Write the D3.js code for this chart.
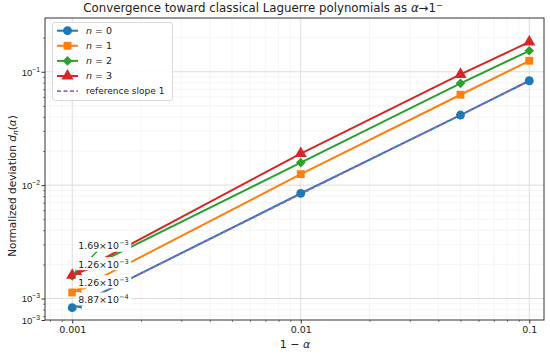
<!DOCTYPE html>
<html>
<head>
<meta charset="utf-8">
<script src="https://cdn.jsdelivr.net/npm/d3@7"></script>
<style>
  body { margin: 0; background: #fff; }
  svg { font-family: "DejaVu Sans", sans-serif; }
</style>
</head>
<body>
<div id="chart"></div>
<script>
// values
const xVals = [0.001, 0.01, 0.05, 0.1];
const dev0 = [8.3e-4, 8.45e-3, 0.0415, 0.0833];
const dev1 = [1.13e-3, 0.0125, 0.0627, 0.125];
const dev2 = [1.58e-3, 0.0158, 0.079, 0.153];
const dev3 = [1.6e-3, 0.019, 0.0948, 0.183];
const refX = [0.001, 0.1];
const refY = [8.33e-4, 0.0833];

const seriesNames = ["0", "1", "2", "3"];
const annotMantissa = ["8.87", "1.26", "1.69", "1.26"];
const annotExp = ["−4", "−3", "−3", "−3"];

const xTicks = [0.001, 0.01, 0.1];
const xTickLabels = ["0.001", "0.01", "0.1"];
const yTicks = [6.46e-4, 1e-3, 1e-2, 1e-1];
const yTickExps = ["−3", "−3", "−2", "−1"];

const W = 550, H = 355;
const colors = ["#1f77b4", "#ff7f0e", "#2ca02c", "#d62728"];
const refColor = "#9467bd";
const symbols = [d3.symbolCircle, d3.symbolSquare, d3.symbolSquare, d3.symbolTriangle];
const symSizes = [62, 62, 46, 64];
const symRotate = [0, 0, 45, 0];
// pixel offset of each annotation text (left edge, vertical centre) from its point
const annotOffset = [[6, -8], [6, -10], [6, -30], [6, -11]];

const svg = d3.select("#chart").append("svg")
	.attr("width", W)
	.attr("height", H);

const x = d3.scaleLog().domain([7.6e-4, 0.116]).range([45, 544]);
const y = d3.scaleLog().domain([6.46e-4, 0.298]).range([320, 18]);

const minorX = x.ticks().filter(v => !xTicks.some(t => Math.abs(t - v) / t < 1e-6));
const minorY = y.ticks().filter(v => !yTicks.some(t => Math.abs(t - v) / t < 1e-6));

// grid
const grid = svg.append("g");
grid.selectAll(".gx-minor").data(minorX).enter().append("line")
	.attr("x1", d => x(d)).attr("x2", d => x(d))
	.attr("y1", 18).attr("y2", 320)
	.attr("stroke", "#eeeeee").attr("stroke-width", 0.6);
grid.selectAll(".gy-minor").data(minorY).enter().append("line")
	.attr("y1", d => y(d)).attr("y2", d => y(d))
	.attr("x1", 45).attr("x2", 544)
	.attr("stroke", "#eeeeee").attr("stroke-width", 0.6);
grid.selectAll(".gx").data(xTicks).enter().append("line")
	.attr("x1", d => x(d)).attr("x2", d => x(d))
	.attr("y1", 18).attr("y2", 320)
	.attr("stroke", "#d9d9d9").attr("stroke-width", 0.9);
grid.selectAll(".gy").data(yTicks.slice(1)).enter().append("line")
	.attr("y1", d => y(d)).attr("y2", d => y(d))
	.attr("x1", 45).attr("x2", 544)
	.attr("stroke", "#d9d9d9").attr("stroke-width", 0.9);

// axes
const axisX = d3.axisBottom(x).tickValues(xTicks).tickSize(3.5).tickPadding(3)
	.tickFormat((d, i) => xTickLabels[i]);
const gx = svg.append("g").attr("transform", "translate(0,320)").call(axisX);
gx.select(".domain").remove();
gx.selectAll("text").attr("font-size", 9.5).attr("fill", "#222").attr("font-family", "DejaVu Sans");
gx.selectAll("line").attr("stroke", "#333");
const gxm = svg.append("g").attr("transform", "translate(0,320)")
	.call(d3.axisBottom(x).tickValues(minorX).tickSize(2).tickFormat(""));
gxm.select(".domain").remove();
gxm.selectAll("line").attr("stroke", "#333").attr("stroke-width", 0.6);

const axisY = d3.axisLeft(y).tickValues(yTicks).tickSize(3.5).tickPadding(3).tickFormat("");
const gy = svg.append("g").attr("transform", "translate(45,0)").call(axisY);
gy.select(".domain").remove();
gy.selectAll("line").attr("stroke", "#333");
gy.selectAll(".tick").each(function (d, i) {
	const t = d3.select(this).append("text")
		.attr("x", -5).attr("dy", "0.35em")
		.attr("text-anchor", "end")
		.attr("font-size", 9.5).attr("fill", "#222");
	t.append("tspan").text("10");
	t.append("tspan").attr("dy", -4).attr("font-size", 6.8).text(yTickExps[i]);
});
const gym = svg.append("g").attr("transform", "translate(45,0)")
	.call(d3.axisLeft(y).tickValues(minorY).tickSize(2).tickFormat(""));
gym.select(".domain").remove();
gym.selectAll("line").attr("stroke", "#333").attr("stroke-width", 0.6);

// series
const allSeries = [dev0, dev1, dev2, dev3];
const line = d3.line().x(d => x(d[0])).y(d => y(d[1]));
const plot = svg.append("g");

allSeries.forEach((vals, k) => {
	const pts = xVals.map((v, i) => [v, vals[i]]);
	plot.append("path").datum(pts)
		.attr("d", line)
		.attr("fill", "none")
		.attr("stroke", colors[k])
		.attr("stroke-width", 2);
	if (k === 0) {
		plot.append("path").datum(refX.map((v, i) => [v, refY[i]]))
			.attr("d", line)
			.attr("fill", "none")
			.attr("stroke", refColor)
			.attr("stroke-width", 1.6)
			.attr("stroke-dasharray", "4,2.5");
	}
});
allSeries.forEach((vals, k) => {
	plot.selectAll(null).data(xVals.map((v, i) => [v, vals[i]])).enter().append("path")
		.attr("transform", d => `translate(${x(d[0])},${y(d[1])}) rotate(${symRotate[k]})`)
		.attr("d", d3.symbol().type(symbols[k]).size(symSizes[k]))
		.attr("fill", colors[k]);
});

// annotations at 1-alpha = 0.001
const defs = svg.append("defs");
colors.forEach((c, k) => {
	defs.append("marker")
		.attr("id", "ah" + k)
		.attr("viewBox", "0 0 10 10")
		.attr("refX", 9).attr("refY", 5)
		.attr("markerWidth", 7).attr("markerHeight", 7)
		.attr("markerUnits", "userSpaceOnUse")
		.attr("orient", "auto")
		.append("path").attr("d", "M0,0L10,5L0,10z").attr("fill", c);
});

const annot = svg.append("g");
allSeries.forEach((vals, k) => {
	const px = x(xVals[0]), py = y(vals[0]);
	const tx = px + annotOffset[k][0], ty = py + annotOffset[k][1];
	const g = annot.append("g");
	const arrow = g.append("line");
	const box = g.append("rect");
	const t = g.append("text")
		.attr("x", tx).attr("y", ty).attr("dy", "0.35em")
		.attr("font-size", 9.4).attr("fill", "#222");
	t.append("tspan").text(annotMantissa[k] + "×10");
	t.append("tspan").attr("dy", -4).attr("font-size", 6.6).text(annotExp[k]);
	const bb = t.node().getBBox();
	box.attr("x", bb.x - 2.5).attr("y", bb.y - 0.5)
		.attr("width", bb.width + 5).attr("height", bb.height + 1)
		.attr("fill", "#fff");
	const cx = bb.x + bb.width / 2, cy = bb.y + bb.height / 2;
	const dx = px - cx, dy = py - cy, len = Math.hypot(dx, dy);
	const shrink = 3;
	arrow.attr("x1", cx).attr("y1", cy)
		.attr("x2", px - dx / len * shrink).attr("y2", py - dy / len * shrink)
		.attr("stroke", colors[k]).attr("stroke-width", 1.4)
		.attr("marker-end", `url(#ah${k})`);
});

// frame
svg.append("rect")
	.attr("x", 45).attr("y", 18).attr("width", 499).attr("height", 302)
	.attr("fill", "none").attr("stroke", "#333").attr("stroke-width", 1);

// legend
const legend = svg.append("g").attr("transform", "translate(52.5,22.5)");
legend.append("rect")
	.attr("width", 120).attr("height", 78).attr("rx", 2.5)
	.attr("fill", "#fff").attr("fill-opacity", 0.85)
	.attr("stroke", "#d0d0d0").attr("stroke-width", 0.8);
seriesNames.forEach((name, k) => {
	const ly = 8.2 + k * 15.1;
	legend.append("line").attr("x1", 4.5).attr("x2", 25.5).attr("y1", ly).attr("y2", ly)
		.attr("stroke", colors[k]).attr("stroke-width", 2);
	legend.append("path")
		.attr("transform", `translate(15,${ly}) rotate(${symRotate[k]})`)
		.attr("d", d3.symbol().type(symbols[k]).size(symSizes[k]))
		.attr("fill", colors[k]);
	const t = legend.append("text").attr("x", 33.5).attr("y", ly).attr("dy", "0.35em")
		.attr("font-size", 9.5).attr("fill", "#222");
	t.append("tspan").attr("font-style", "italic").text("n");
	t.append("tspan").text(" = " + name);
});
{
	const ly = 8.2 + 4 * 15.1;
	legend.append("line").attr("x1", 4.5).attr("x2", 25.5).attr("y1", ly).attr("y2", ly)
		.attr("stroke", refColor).attr("stroke-width", 1.6).attr("stroke-dasharray", "4,2.5");
	legend.append("text").attr("x", 33.5).attr("y", ly).attr("dy", "0.35em")
		.attr("font-size", 9).attr("fill", "#222").text("reference slope 1");
}

// title and axis labels
const title = svg.append("text").attr("x", 263).attr("y", 12)
	.attr("text-anchor", "middle").attr("font-size", 11.8).attr("fill", "#222");
title.append("tspan").text("Convergence toward classical Laguerre polynomials as ");
title.append("tspan").attr("font-style", "italic").text("α");
title.append("tspan").text("→1");
title.append("tspan").attr("dy", -4).attr("font-size", 8).text("−");

const xl = svg.append("text").attr("x", 295).attr("y", 348)
	.attr("text-anchor", "middle").attr("font-size", 11).attr("fill", "#222");
xl.append("tspan").text("1 − ");
xl.append("tspan").attr("font-style", "italic").text("α");

const yl = svg.append("text")
	.attr("transform", "translate(16,186) rotate(-90)")
	.attr("text-anchor", "middle").attr("font-size", 10.5).attr("fill", "#222");
yl.append("tspan").text("Normalized deviation ");
yl.append("tspan").attr("font-style", "italic").text("d");
yl.append("tspan").attr("font-style", "italic").attr("font-size", 7.5).attr("dy", 2).text("n");
yl.append("tspan").attr("dy", -2).text("(");
yl.append("tspan").attr("font-style", "italic").text("α");
yl.append("tspan").text(")");
</script>
</body>
</html>
